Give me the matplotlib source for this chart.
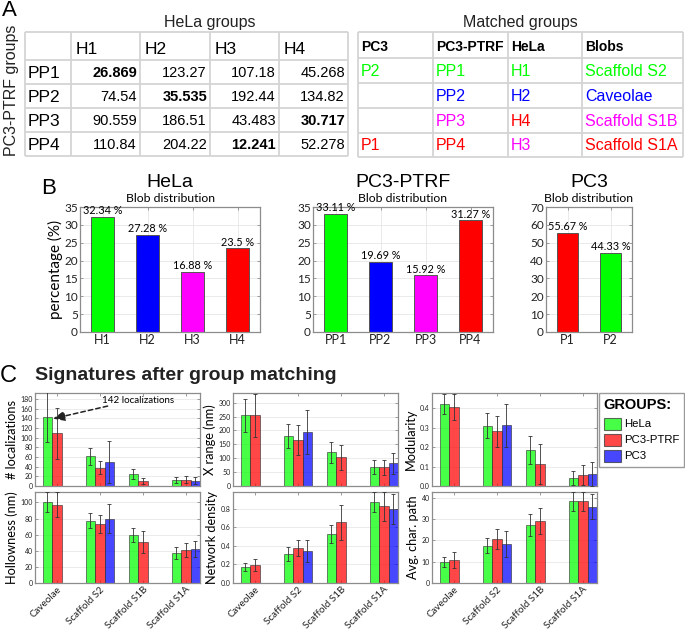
import numpy as np
import matplotlib
matplotlib.use("Agg")
import matplotlib.pyplot as plt
from matplotlib.patches import Rectangle

plt.rcParams['font.family'] = ['Liberation Sans', 'DejaVu Sans']

# ---------------- DATA ----------------
hela_groups = ['H1', 'H2', 'H3', 'H4']
ptrf_groups = ['PP1', 'PP2', 'PP3', 'PP4']
pc3_groups = ['P1', 'P2']
dist_matrix = [[26.869, 123.27, 107.18, 45.268],
               [74.54, 35.535, 192.44, 134.82],
               [90.559, 186.51, 43.483, 30.717],
               [110.84, 204.22, 12.241, 52.278]]

match_header = ['PC3', 'PC3-PTRF', 'HeLa', 'Blobs']
match_pc3 = ['P2', '', '', 'P1']
match_ptrf = ['PP1', 'PP2', 'PP3', 'PP4']
match_hela = ['H1', 'H2', 'H4', 'H3']
match_blobs = ['Scaffold S2', 'Caveolae', 'Scaffold S1B', 'Scaffold S1A']

hela_pct = [32.34, 27.28, 16.88, 23.5]
ptrf_pct = [33.11, 19.69, 15.92, 31.27]
pc3_pct = [55.67, 44.33]

GREEN, BLUE, MAG, RED = '#00ff00', '#0000ff', '#ff00ff', '#ff0000'
group_color = {'H1': GREEN, 'H2': BLUE, 'H3': MAG, 'H4': RED,
               'PP1': GREEN, 'PP2': BLUE, 'PP3': MAG, 'PP4': RED,
               'P1': RED, 'P2': GREEN, '': 'k'}

categories = ['Caveolae', 'Scaffold S2', 'Scaffold S1B', 'Scaffold S1A']
nan = np.nan
loc_hela = [142, 61, 25, 12];        loc_hela_err = [52, 17, 10, 6]
loc_ptrf = [109, 38, 10, 13];        loc_ptrf_err = [53, 14, 6, 7]
loc_pc3 = [nan, 50, nan, 11];        loc_pc3_err = [nan, 43, nan, 7]

xr_hela = [255, 180, 121, 70];       xr_hela_err = [59, 42, 38, 25]
xr_ptrf = [255, 165, 104, 67];       xr_ptrf_err = [78, 53, 45, 27]
xr_pc3 = [nan, 194, nan, 82];        xr_pc3_err = [nan, 78, nan, 37]

mod_hela = [0.42, 0.31, 0.185, 0.039];   mod_hela_err = [0.051, 0.062, 0.074, 0.036]
mod_ptrf = [0.405, 0.281, 0.111, 0.055]; mod_ptrf_err = [0.067, 0.079, 0.103, 0.051]
mod_pc3 = [nan, 0.312, nan, 0.062];      mod_pc3_err = [nan, 0.11, nan, 0.06]

hol_hela = [100.6, 77.6, 59.5, 37.4];    hol_hela_err = [12.4, 9.4, 8.5, 7]
hol_ptrf = [97.3, 73, 50.5, 41];         hol_ptrf_err = [15.3, 11.5, 13.5, 8.2]
hol_pc3 = [nan, 80, nan, 42.3];          hol_pc3_err = [nan, 17.5, nan, 9.8]

nd_hela = [0.171, 0.314, 0.529, 0.875];  nd_hela_err = [0.045, 0.074, 0.093, 0.11]
nd_ptrf = [0.193, 0.375, 0.654, 0.825];  nd_ptrf_err = [0.066, 0.087, 0.188, 0.152]
nd_pc3 = [nan, 0.343, nan, 0.793];       nd_pc3_err = [nan, 0.118, nan, 0.161]

acp_hela = [9.9, 17.5, 27.1, 38.3];      acp_hela_err = [2.4, 3.4, 5, 4.5]
acp_ptrf = [10.9, 20.6, 29.1, 38.3];     acp_ptrf_err = [3.7, 4.5, 6, 4.4]
acp_pc3 = [nan, 18.3, nan, 35.7];        acp_pc3_err = [nan, 6.2, nan, 5.8]

legend_labels = ['HeLa', 'PC3-PTRF', 'PC3']

# ---------------- FIGURE ----------------
W, H = 685, 630
fig = plt.figure(figsize=(W / 100, H / 100), dpi=100)
ov = fig.add_axes([0, 0, 1, 1], zorder=5)
ov.set_xlim(0, W); ov.set_ylim(H, 0); ov.axis('off')
ov.patch.set_alpha(0)

GRIDC = '#d4d4d4'

def grid_lines(xs, ys):
    for x in xs:
        ov.plot([x, x], [ys[0], ys[-1]], color=GRIDC, lw=1.3, solid_capstyle='butt')
    for y in ys:
        ov.plot([xs[0], xs[-1]], [y, y], color=GRIDC, lw=1.3, solid_capstyle='butt')

# Panel A - left table
ov.text(2, 10, 'A', fontsize=16, va='center', ha='left')
xs = [25, 71, 140, 210, 279, 348]
ys = [32, 60, 84, 108, 132, 156]
grid_lines(xs, ys)
ov.text((xs[1] + xs[-1]) / 2, 22, 'HeLa groups', fontsize=11.5, ha='center', va='center', color='#222222')
ov.text(12, (ys[0] + ys[-1]) / 2 - 4, 'PC3-PTRF groups', fontsize=11.5, rotation=90,
        ha='center', va='center', color='#222222')
for j, h in enumerate(hela_groups):
    ov.text(xs[j + 1] + 5, (ys[0] + ys[1]) / 2 + 4, h, fontsize=12.5, ha='left', va='center')
for i, p in enumerate(ptrf_groups):
    yc = (ys[i + 1] + ys[i + 2]) / 2 + 1
    ov.text(xs[0] + 3, yc, p, fontsize=12.5, ha='left', va='center')
    row = dist_matrix[i]
    mn = min(row)
    for j, v in enumerate(row):
        ov.text(xs[j + 2] - 3, yc, f'{v:g}', fontsize=10.5, ha='right', va='center',
                fontweight='bold' if v == mn else 'normal')

# Panel A - right table
xs2 = [358, 433, 508, 582, 683]
ys2 = [32, 58, 83, 108, 133, 157]
grid_lines(xs2, ys2)
ov.text((xs2[0] + xs2[-1]) / 2, 22, 'Matched groups', fontsize=11.5, ha='center', va='center', color='#222222')
for j, h in enumerate(match_header):
    ov.text(xs2[j] + 3, (ys2[0] + ys2[1]) / 2 + 2, h, fontsize=10, fontweight='bold', ha='left', va='center')
for i in range(4):
    yc = (ys2[i + 1] + ys2[i + 2]) / 2 + 1
    cells = [match_pc3[i], match_ptrf[i], match_hela[i], match_blobs[i]]
    cols = [group_color[match_pc3[i]], group_color[match_ptrf[i]],
            group_color[match_hela[i]], group_color[match_ptrf[i]]]
    for j, (t, c) in enumerate(zip(cells, cols)):
        ov.text(xs2[j] + 3, yc, t, fontsize=11.5, color=c, ha='left', va='center')

# ---------------- Panel B ----------------
AXF = ['Lato', 'DejaVu Sans']

def px_axes(x0, y0, x1, y1):
    return fig.add_axes([x0 / W, (H - y1) / H, (x1 - x0) / W, (y1 - y0) / H])

def style_axes(ax, lab_size):
    for s in ax.spines.values():
        s.set_color('#8c8c8c'); s.set_linewidth(0.9)
    ax.tick_params(direction='in', length=2, width=0.6, colors='#8c8c8c',
                   labelcolor='#222222', labelsize=lab_size, top=True, right=True, pad=1.5)

def set_fonts(ax):
    for lab in ax.get_xticklabels() + ax.get_yticklabels():
        lab.set_family(AXF)

def blob_chart(ax, names, vals, ymax, yticks, title):
    x = np.arange(1, len(vals) + 1)
    cols = [group_color[n] for n in names]
    ax.bar(x, vals, width=0.5, color=cols, edgecolor='#555555', linewidth=0.7, zorder=2)
    for xi, v in zip(x, vals):
        ax.text(xi, v + ymax * 0.004, f'{v:g} %', ha='center', va='bottom', fontsize=7.8,
                family=AXF, zorder=3)
    ax.set_xlim(0.5, len(vals) + 0.5)
    ax.set_ylim(0, ymax)
    ax.set_yticks(yticks)
    ax.set_xticks(x)
    ax.set_xticklabels(names)
    ax.grid(True, color='#e6e6e6', lw=0.6, zorder=0)
    style_axes(ax, 9)
    ax.tick_params(axis='y', labelsize=8.5)
    set_fonts(ax)
    ax.text(0.5, 1.2, title, transform=ax.transAxes, ha='center', va='center', fontsize=14)
    ax.text(0.5, 1.07, 'Blob distribution', transform=ax.transAxes, ha='center', va='center',
            fontsize=8.8, family=AXF)

ov.text(41, 188, 'B', fontsize=16, va='center', ha='left')
axB1 = px_axes(80, 207, 260, 332)
blob_chart(axB1, hela_groups, hela_pct, 35, np.arange(0, 36, 5), 'HeLa')
axB1.set_ylabel('percentage (%)', fontsize=11, family=AXF, labelpad=1)
axB2 = px_axes(313, 207, 493, 332)
blob_chart(axB2, ptrf_groups, ptrf_pct, 35, np.arange(0, 36, 5), 'PC3-PTRF')
axB3 = px_axes(546, 207, 632, 332)
blob_chart(axB3, pc3_groups, pc3_pct, 70, np.arange(0, 71, 10), 'PC3')

# ---------------- Panel C ----------------
ov.text(0, 376, 'C', fontsize=17, va='center', ha='left')
ov.text(35, 376, 'Signatures after group matching', fontsize=14, fontweight='bold',
        va='center', ha='left', color='#222222')

BAR_COLS = [GREEN, RED, BLUE]
W_BAR = 0.22

def sig_chart(ax, series, errs, ymax, yticks, ylabel, show_x):
    x = np.arange(1, len(categories) + 1)
    for k, (vals, er) in enumerate(zip(series, errs)):
        xp = x + (k - 1) * W_BAR
        ax.bar(xp, vals, width=W_BAR, color=BAR_COLS[k], alpha=0.72,
               edgecolor='#333333', linewidth=0.6, zorder=2)
        ax.errorbar(xp, vals, yerr=er, fmt='none', ecolor='#333333', elinewidth=0.6,
                    capsize=1.3, capthick=0.6, zorder=3)
    ax.set_xlim(0.49, 4.33)
    ax.set_ylim(0, ymax)
    ax.set_yticks(yticks)
    ax.set_xticks(x)
    if show_x:
        ax.set_xticklabels(categories, rotation=45, ha='right', rotation_mode='anchor')
    else:
        ax.set_xticklabels([])
    ax.yaxis.grid(True, color='#e8e8e8', lw=0.6, zorder=0)
    ax.set_axisbelow(True)
    style_axes(ax, 5)
    ax.tick_params(axis='x', labelsize=7.1, pad=1.5)
    set_fonts(ax)
    ax.set_ylabel(ylabel, fontsize=9.2, family=AXF, labelpad=2)

cols_x = [(35, 200), (233, 398), (432, 597)]
top_y = (393, 486)
bot_y = (492, 583)

ax1 = px_axes(cols_x[0][0], top_y[0], cols_x[0][1], top_y[1])
sig_chart(ax1, [loc_hela, loc_ptrf, loc_pc3], [loc_hela_err, loc_ptrf_err, loc_pc3_err],
          192, np.arange(0, 181, 20), '# localizations', False)
ax1.text(2.05, 176, '142 localizations', fontsize=7, family=AXF, ha='left', va='center', zorder=4)
ax1.annotate('', xy=(1 - W_BAR / 2 + 0.02, loc_hela[0] - 3), xytext=(2.18, 165),
             arrowprops=dict(arrowstyle='-|>,head_length=0.7,head_width=0.3', color='#222222',
                             lw=1.1, linestyle=(0, (3, 2)), shrinkA=0, shrinkB=0), zorder=4)

ax2 = px_axes(cols_x[1][0], top_y[0], cols_x[1][1], top_y[1])
sig_chart(ax2, [xr_hela, xr_ptrf, xr_pc3], [xr_hela_err, xr_ptrf_err, xr_pc3_err],
          335, np.arange(0, 301, 50), 'X range (nm)', False)

ax3 = px_axes(cols_x[2][0], top_y[0], cols_x[2][1], top_y[1])
sig_chart(ax3, [mod_hela, mod_ptrf, mod_pc3], [mod_hela_err, mod_ptrf_err, mod_pc3_err],
          0.477, [0, 0.1, 0.2, 0.3, 0.4], 'Modularity', False)

ax4 = px_axes(cols_x[0][0], bot_y[0], cols_x[0][1], bot_y[1])
sig_chart(ax4, [hol_hela, hol_ptrf, hol_pc3], [hol_hela_err, hol_ptrf_err, hol_pc3_err],
          113, np.arange(0, 101, 20), 'Hollowness (nm)', True)

ax5 = px_axes(cols_x[1][0], bot_y[0], cols_x[1][1], bot_y[1])
sig_chart(ax5, [nd_hela, nd_ptrf, nd_pc3], [nd_hela_err, nd_ptrf_err, nd_pc3_err],
          0.98, [0, 0.2, 0.4, 0.6, 0.8], 'Network density', True)

ax6 = px_axes(cols_x[2][0], bot_y[0], cols_x[2][1], bot_y[1])
sig_chart(ax6, [acp_hela, acp_ptrf, acp_pc3], [acp_hela_err, acp_ptrf_err, acp_pc3_err],
          42.6, np.arange(0, 41, 10), 'Avg. char. path', True)

# Legend box
ov.add_patch(Rectangle((599, 393), 85, 74, facecolor='white', edgecolor='#9a9a9a', lw=1.0))
ov.text(603, 405, 'GROUPS:', fontsize=10.5, fontweight='bold', ha='left', va='center')
for k, lab in enumerate(legend_labels):
    yc = 424 + k * 16
    ov.add_patch(Rectangle((604, yc - 6), 17, 12, facecolor=BAR_COLS[k], alpha=0.72,
                           edgecolor='#333333', lw=0.8))
    ov.text(624, yc, lab, fontsize=8.2, ha='left', va='center')

fig.savefig('out.png', dpi=100)
